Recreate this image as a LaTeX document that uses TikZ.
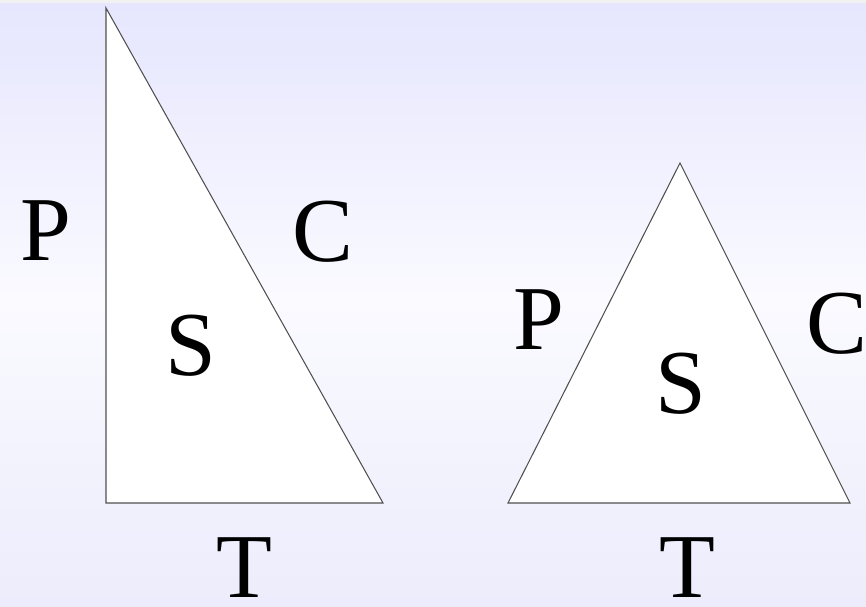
\documentclass[tikz,border=0pt]{standalone}
\usepackage{tikz}
\usetikzlibrary{calc}
\usepackage{xcolor}
\usepackage{fontspec}
\setmainfont{Liberation Serif}
\definecolor{BGT}{RGB}{230,230,254}
\definecolor{BGM}{RGB}{250,250,255}
\definecolor{BGB}{RGB}{236,236,252}
\definecolor{TOPB}{RGB}{241,241,241}
\definecolor{EDG}{RGB}{80,80,80}

\begin{document}
\begin{tikzpicture}[
  x=0.02cm, y=-0.02cm,
  tri/.style={draw=EDG, fill=white, line width=0.6pt, line join=miter},
  lett/.style={font=\fontsize{52}{60}\selectfont, inner sep=0pt, text=black}
]
\useasboundingbox (0,0) rectangle (866,607);
% background
\shade[top color=BGT, bottom color=BGM] (0,3) rectangle (866,300);
\shade[top color=BGM, bottom color=BGB] (0,300) rectangle (866,607);
\fill[TOPB] (0,0) rectangle (866,3);

% right triangle
\coordinate (a1) at (106,8);
\coordinate (a2) at (106,503);
\coordinate (a3) at (383,503);
\draw[tri] (a1) -- (a2) -- (a3) -- cycle;

% isosceles triangle
\coordinate (b1) at (508,503);
\coordinate (b2) at (680,163);
\coordinate (b3) at (850,503);
\draw[tri] (b1) -- (b2) -- (b3) -- cycle;

\node[lett] (pa) at (46,231)  {P};
\node[lett] (ca) at (323,232) {C};
\node[lett] (sa) at (191,346) {S};
\node[lett] (ta) at (244,568) {T};

\node[lett] (pb) at (539,320) {P};
\node[lett] (sb) at (681,384) {S};
\node[lett] (cb) at (837,324) {C};
\node[lett] (tb) at (687,568) {T};
\end{tikzpicture}
\end{document}
